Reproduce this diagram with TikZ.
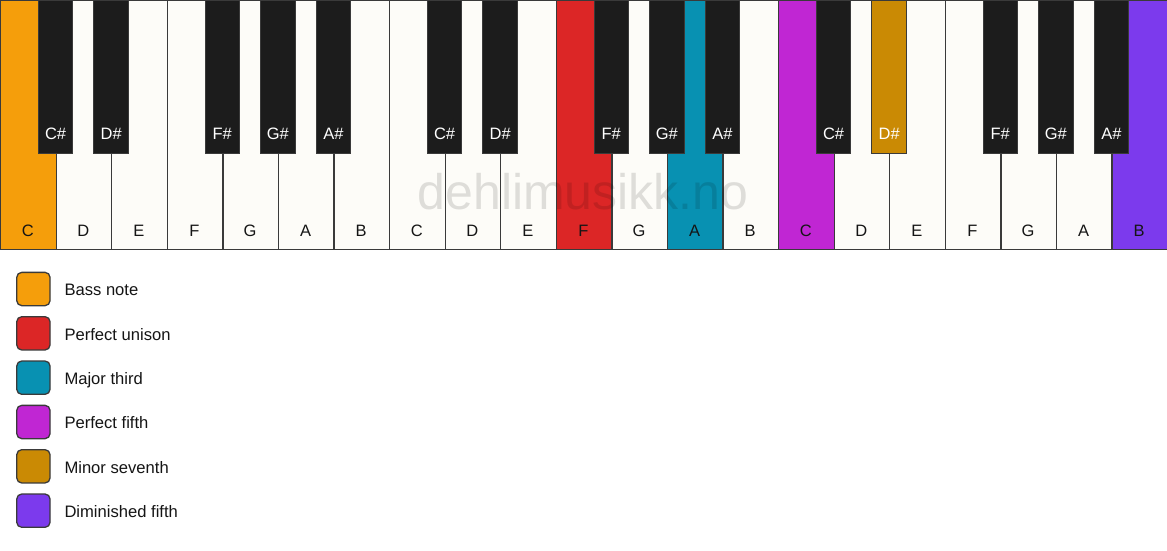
\documentclass[tikz,border=0pt]{standalone}
\usepackage{fontspec}
\setmainfont{Liberation Sans}
\definecolor{keywhite}{HTML}{FDFCF8}
\definecolor{keyblack}{HTML}{1C1C1C}
\definecolor{keyborder}{HTML}{3A3A3A}
\definecolor{cbass}{HTML}{F59E0B}
\definecolor{cunison}{HTML}{DC2626}
\definecolor{cthird}{HTML}{0891B2}
\definecolor{cfifth}{HTML}{C026D3}
\definecolor{cseventh}{HTML}{CA8A04}
\definecolor{cdim}{HTML}{7C3AED}
\definecolor{labeldark}{HTML}{151515}
\begin{document}
\begin{tikzpicture}[x=1pt,y=-1pt,
  whitekey/.style={draw=keyborder, line width=1.3pt, minimum width=55.571pt, minimum height=249pt, anchor=north west, inner sep=0pt, outer sep=0pt},
  blackkey/.style={draw=keyborder, line width=1pt, minimum width=34.5pt, minimum height=153pt, anchor=north, inner sep=0pt, outer sep=0pt},
  keylabel/.style={font=\fontsize{16.5}{16.5}\selectfont, anchor=base, inner sep=0pt},
  legbox/.style={draw=keyborder, line width=1.3pt, rounded corners=5pt, minimum width=33.3pt, minimum height=33.3pt, inner sep=0pt},
  legtext/.style={font=\fontsize{16.6}{16.6}\selectfont, anchor=base west, inner sep=0pt, text=labeldark},
  watermark/.style={font=\fontsize{50}{50}\selectfont, text=black, text opacity=0.12, inner sep=0pt}
]
\useasboundingbox[fill=white] (0,0) rectangle (1167,550);
% white keys
\foreach \i/\n/\c/\t in {0/C/cbass/labeldark, 1/D/keywhite/labeldark, 2/E/keywhite/labeldark, 3/F/keywhite/labeldark, 4/G/keywhite/labeldark, 5/A/keywhite/labeldark, 6/B/keywhite/labeldark,
  7/C/keywhite/labeldark, 8/D/keywhite/labeldark, 9/E/keywhite/labeldark, 10/F/cunison/labeldark, 11/G/keywhite/labeldark, 12/A/cthird/labeldark, 13/B/keywhite/labeldark,
  14/C/cfifth/labeldark, 15/D/keywhite/labeldark, 16/E/keywhite/labeldark, 17/F/keywhite/labeldark, 18/G/keywhite/labeldark, 19/A/keywhite/labeldark, 20/B/cdim/labeldark}{
  \node[whitekey, fill=\c] (wk\i) at ({\i*55.571+0.6}, 0.6) {};
  \node[keylabel, text=\t] (wl\i) at ({(\i+0.5)*55.571}, 236.5) {\n};
}
% black keys
\foreach \p/\n/\c in {1/C/keyblack, 2/D/keyblack, 4/F/keyblack, 5/G/keyblack, 6/A/keyblack,
  8/C/keyblack, 9/D/keyblack, 11/F/keyblack, 12/G/keyblack, 13/A/keyblack,
  15/C/keyblack, 16/D/cseventh, 18/F/keyblack, 19/G/keyblack, 20/A/keyblack}{
  \node[blackkey, fill=\c] (bk\p) at ({\p*55.571}, 0) {};
  \node[keylabel, text=white] (bl\p) at ({\p*55.571}, 139) {\n\#};
}
% watermark
\node[watermark] (wm) at (583, 191.5) {dehlimusikk.no};
% legend
\foreach \k/\c/\txt in {0/cbass/Bass note, 1/cunison/Perfect unison, 2/cthird/Major third, 3/cfifth/Perfect fifth, 4/cseventh/Minor seventh, 5/cdim/Diminished fifth}{
  \node[legbox, fill=\c] (lb\k) at (33.4, {289+\k*44.33}) {};
  \node[legtext] (lt\k) at (64.3, {295.7+\k*44.33}) {\txt};
}
\end{tikzpicture}
\end{document}
